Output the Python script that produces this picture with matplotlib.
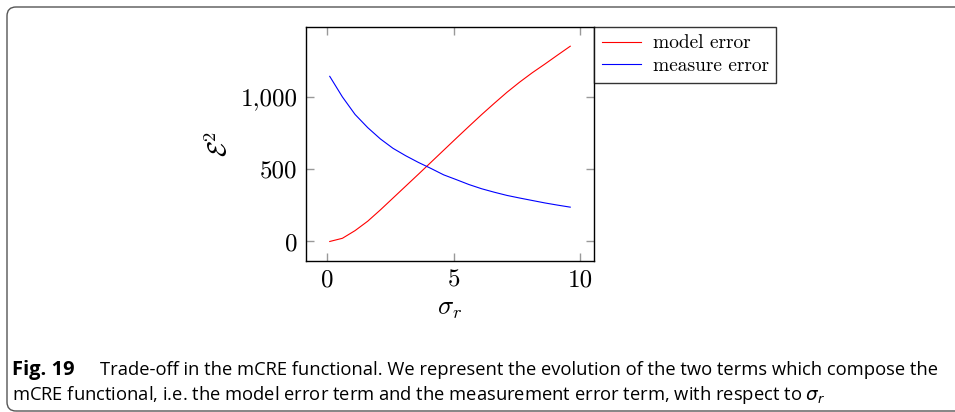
import matplotlib
matplotlib.use('Agg')
import matplotlib.pyplot as plt
from matplotlib.patches import FancyBboxPatch

# sigma_r sampling and the two error terms of the mCRE functional
sigma_r = [0.1, 0.6, 1.1, 1.6, 2.1, 2.6, 3.1, 3.6, 4.1, 4.6,
           5.1, 5.6, 6.1, 6.6, 7.1, 7.6, 8.1, 8.6, 9.1, 9.6]
model_error = [0, 22, 75, 140, 218, 300, 382, 464, 547, 630,
               713, 795, 876, 954, 1030, 1100, 1165, 1225, 1287, 1348]
measure_error = [1140, 998, 877, 786, 708, 643, 592, 546, 504, 460,
                 427, 393, 364, 340, 318, 300, 283, 266, 251, 237]

x_ticks = [0, 5, 10]
y_ticks = [0, 500, 1000]
y_ticklabels = ['0', '500', '1,000']

plt.rcParams['font.family'] = 'cmr10'
plt.rcParams['mathtext.fontset'] = 'cm'
plt.rcParams['axes.formatter.use_mathtext'] = True

fig = plt.figure(figsize=(9.55, 4.12), dpi=100)

# rounded frame around the figure
frame = FancyBboxPatch((7, 1), 1000, 404, boxstyle='round,pad=0,rounding_size=9',
                       transform=None, facecolor='none', edgecolor='#555555',
                       linewidth=1.0)
fig.patches.append(frame)

ax = fig.add_axes([0.3201, 0.3665, 0.3022, 0.5687])
ax.plot(sigma_r, model_error, color='#ff0000', linewidth=0.8, label='model error')
ax.plot(sigma_r, measure_error, color='#0000ff', linewidth=0.8, label='measure error')

# pgfplots-like 10% enlargement of the limits
xr = max(sigma_r) - min(sigma_r)
ax.set_xlim(min(sigma_r) - 0.1 * xr, max(sigma_r) + 0.1 * xr)
ymin = min(min(model_error), min(measure_error))
ymax = max(max(model_error), max(measure_error))
yr = ymax - ymin
ax.set_ylim(ymin - 0.1 * yr, ymax + 0.1 * yr)

ax.set_xticks(x_ticks)
ax.set_xticklabels([str(t) for t in x_ticks])
ax.set_yticks(y_ticks)
ax.set_yticklabels(y_ticklabels)
ax.tick_params(direction='in', length=6, width=1, color='#999999',
               top=True, right=True, labelsize=18, pad=6)
for s in ax.spines.values():
    s.set_linewidth(1.0)
    s.set_color('black')

ax.set_xlabel(r'$\sigma_r$', fontsize=19, labelpad=4)
ax.set_ylabel(r'$\mathcal{E}^2$', fontsize=19, labelpad=6)

leg = ax.legend(loc='upper left', bbox_to_anchor=(1.0, 1.0), fontsize=14,
                frameon=True, fancybox=False, handlelength=2.0,
                borderaxespad=0, borderpad=0.4, labelspacing=0.25,
                handletextpad=0.6)
leg.get_frame().set_edgecolor('black')
leg.get_frame().set_linewidth(1.0)

# caption
fig.text(12 / 955, 1 - 370 / 412, 'Fig. 19', fontfamily='Open Sans',
         fontweight='bold', fontsize=14.5, va='center', ha='left')
fig.text(100 / 955, 1 - 370 / 412,
         'Trade-off in the mCRE functional. We represent the evolution of the two terms which compose the',
         fontfamily='Open Sans', fontsize=13.2, va='center', ha='left')
fig.text(12 / 955, 1 - 395 / 412,
         r'mCRE functional, i.e. the model error term and the measurement error term, with respect to $\sigma_r$',
         fontfamily='Open Sans', fontsize=13.2, va='center', ha='left',
         math_fontfamily='dejavusans')

fig.savefig('out.png', dpi=100)
